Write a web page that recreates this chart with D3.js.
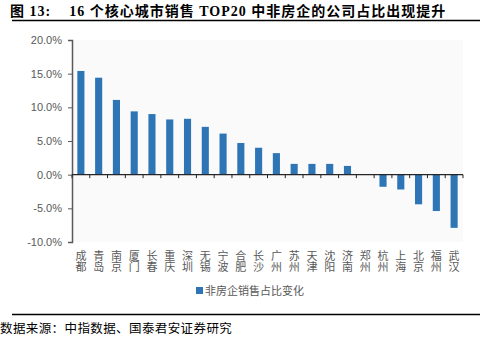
<!DOCTYPE html>
<html>
<head>
<meta charset="utf-8">
<style>
  body { margin: 0; background: #fff; }
  svg { display: block; }
  .ylab { font-family: "Liberation Sans", Arial, sans-serif; font-size: 11px; fill: #595959; }
  .xlab { font-family: "Noto Sans CJK SC", sans-serif; font-size: 11px; fill: #595959;
          writing-mode: vertical-rl; text-orientation: upright; }
</style>
</head>
<body>
<svg id="chart" width="482" height="339"></svg>
<script src="https://d3js.org/d3.v7.min.js"></script>
<script>
const cities = ["成都","青岛","南京","厦门","长春","重庆","深圳","无锡","宁波","合肥",
                "长沙","广州","苏州","天津","沈阳","济南","郑州","杭州","上海","北京","福州","武汉"];
const values = [15.4, 14.4, 11.1, 9.4, 9.0, 8.2, 8.3, 7.1, 6.1, 4.7,
                4.0, 3.2, 1.6, 1.6, 1.6, 1.3, 0, -1.8, -2.2, -4.4, -5.4, -7.9];
const yTicks = [20, 15, 10, 5, 0, -5, -10];
const seriesName = "非房企销售占比变化";
const titleText = "图 13:    16 个核心城市销售 TOP20 中非房企的公司占比出现提升";
const sourceText = "数据来源：中指数据、国泰君安证券研究";

const svg = d3.select("#chart");
const pLeft = 72, pRight = 463, pTop = 40, pBottom = 242;

const x = d3.scaleBand().domain(cities).range([pLeft, pRight]).paddingInner(0.6).paddingOuter(0.3);
const y = d3.scaleLinear().domain([-10, 20]).range([pBottom, pTop]);

// title + rules
svg.append("text").attr("x", 10).attr("y", 16)
  .attr("font-family", "'Liberation Serif', 'Noto Sans CJK SC', serif")
  .attr("font-weight", "bold").attr("font-size", 14).attr("fill", "#000")
  .attr("letter-spacing", 1.0)
  .attr("xml:space", "preserve").text(titleText);
svg.append("line").attr("x1", 12).attr("x2", 480).attr("y1", 20.5).attr("y2", 20.5)
  .attr("stroke", "#000").attr("stroke-width", 1.5);
svg.append("line").attr("x1", 12).attr("x2", 480).attr("y1", 314.5).attr("y2", 314.5)
  .attr("stroke", "#000").attr("stroke-width", 1.5);

// plot background
svg.append("rect").attr("x", pLeft).attr("y", pTop).attr("width", pRight - pLeft).attr("height", pBottom - pTop)
  .attr("fill", "#fafafa");

// bars
svg.selectAll(".bar").data(values).enter().append("rect")
  .attr("class", "bar")
  .attr("x", (d, i) => x(cities[i]))
  .attr("width", x.bandwidth())
  .attr("y", d => y(Math.max(d, 0)))
  .attr("height", d => Math.abs(y(d) - y(0)))
  .attr("fill", "#2e75b6");

// y axis
const yAxis = d3.axisLeft(y).tickValues(yTicks).tickSize(4)
  .tickFormat(d => d.toFixed(1) + "%");
const ya = svg.append("g").attr("transform", `translate(${pLeft},0)`).call(yAxis);
ya.attr("font-size", null).attr("font-family", null);
ya.select(".domain").attr("stroke", "#595959").attr("stroke-width", 1.5);
ya.selectAll(".tick line").attr("stroke", "#595959");
ya.selectAll(".tick text").attr("class", "ylab").attr("x", -10).attr("fill", null);

// zero line with ticks at band boundaries
const bounds = d3.range(cities.length + 1).map(i => pLeft + i * x.step());
svg.append("line").attr("x1", pLeft).attr("x2", pRight).attr("y1", y(0)).attr("y2", y(0))
  .attr("stroke", "#262626").attr("stroke-width", 1.2);
svg.selectAll(".xtick").data(bounds).enter().append("line")
  .attr("x1", d => d).attr("x2", d => d).attr("y1", y(0)).attr("y2", y(0) + 3.5)
  .attr("stroke", "#262626");

// category labels (vertical, stacked chars)
svg.selectAll(".xlab").data(cities).enter().append("text")
  .attr("class", "xlab")
  .attr("x", c => x(c) + x.bandwidth() / 2)
  .attr("y", 250)
  .text(c => c);

// legend
svg.append("rect").attr("x", 196).attr("y", 287).attr("width", 7).attr("height", 7).attr("fill", "#2e75b6");
svg.append("text").attr("x", 205).attr("y", 294.5)
  .attr("font-family", "'Noto Sans CJK SC', sans-serif").attr("font-size", 11).attr("fill", "#595959")
  .text(seriesName);

// source
svg.append("text").attr("x", 0).attr("y", 333)
  .attr("font-family", "'Noto Sans CJK SC', serif").attr("font-size", 12.5).attr("fill", "#000")
  .attr("letter-spacing", 0.4)
  .text(sourceText);
</script>
</body>
</html>
